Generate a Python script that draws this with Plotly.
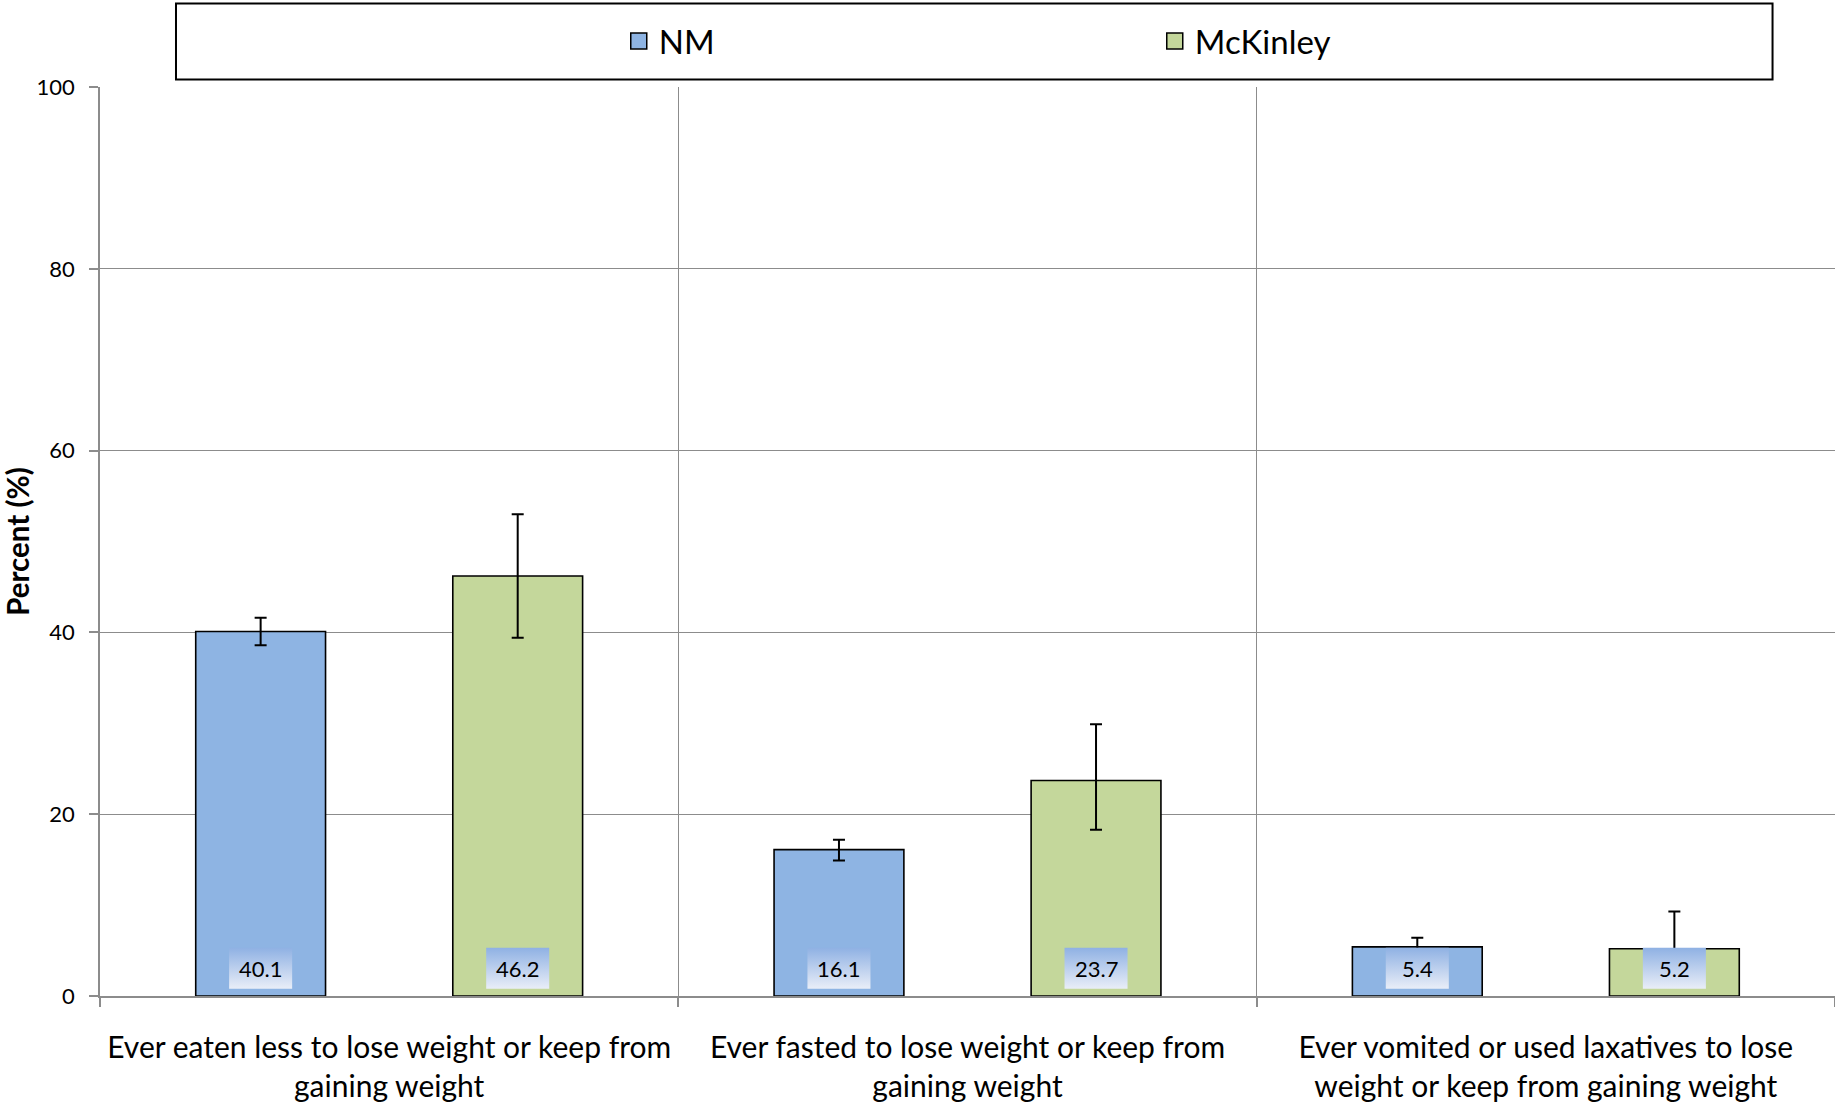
import plotly.graph_objects as go

categories = [
    "Ever eaten less to lose weight or keep from<br>gaining weight",
    "Ever fasted to lose weight or keep from<br>gaining weight",
    "Ever vomited or used laxatives to lose<br>weight or keep from gaining weight",
]
series_names = ["NM", "McKinley"]
nm_values = [40.1, 16.1, 5.4]
mck_values = [46.2, 23.7, 5.2]
nm_err_plus = [1.5, 1.1, 1.0]
nm_err_minus = [1.5, 1.2, 1.0]
mck_err_plus = [6.8, 6.2, 4.1]
mck_err_minus = [6.8, 5.4, 2.5]
y_ticks = [0, 20, 40, 60, 80, 100]

FONT = "Lato"
colors = ["#8EB4E3", "#C4D79B"]
grid = "#8C8C8C"

bargap = 0.111
bargroupgap = 0.495
slot = (1 - bargap) / 2           # width of each group slot
offsets = [-slot / 2, slot / 2]   # centre offsets of the two bars

xs = list(range(len(categories)))
values = [nm_values, mck_values]
eplus = [nm_err_plus, mck_err_plus]
eminus = [nm_err_minus, mck_err_minus]

fig = go.Figure()
for s in range(2):
    fig.add_trace(go.Bar(
        x=xs, y=values[s], name=series_names[s],
        marker=dict(color=colors[s], line=dict(color="black", width=1.6)),
        error_y=dict(type="data", symmetric=False, array=eplus[s], arrayminus=eminus[s],
                     color="black", thickness=2, width=6),
        showlegend=False,
    ))

# legend entries
for s in range(2):
    fig.add_trace(go.Scatter(
        x=[None], y=[None], mode="markers", name=series_names[s],
        marker=dict(symbol="square", size=20, color=colors[s], line=dict(color="black", width=1.5)),
    ))

# value label boxes with vertical gradient
box_hw = 0.0545
box_lo, box_hi = 0.8, 5.3
for s in range(2):
    for i, v in enumerate(values[s]):
        cx = xs[i] + offsets[s]
        fig.add_trace(go.Scatter(
            x=[cx - box_hw, cx + box_hw, cx + box_hw, cx - box_hw, cx - box_hw],
            y=[box_lo, box_lo, box_hi, box_hi, box_lo],
            mode="lines", line=dict(width=0), fill="toself",
            fillgradient=dict(type="vertical", start=box_lo, stop=box_hi,
                              colorscale=[[0, "#E9EEF8"], [1, "#8FB1E3"]]),
            showlegend=False, hoverinfo="skip",
        ))
        fig.add_annotation(x=cx, y=(box_lo + box_hi) / 2, text=f"{v:.1f}", showarrow=False,
                           font=dict(family=FONT, size=22, color="black"))

# legend frame
fig.add_shape(type="rect", xref="paper", yref="paper", x0=0.0438, x1=0.964, y0=1.0082, y1=1.0919,
              line=dict(color="black", width=2), fillcolor="rgba(0,0,0,0)")

fig.update_layout(
    width=1835, height=1105,
    margin=dict(l=100, r=0, t=87, b=109),
    plot_bgcolor="white", paper_bgcolor="white",
    barmode="group", bargap=bargap, bargroupgap=bargroupgap,
    font=dict(family=FONT, color="black"),
    legend=dict(orientation="h", x=0.299, xanchor="left", y=1.0506, yanchor="middle",
                entrywidth=491, font=dict(family=FONT, size=33), bgcolor="rgba(0,0,0,0)"),
)
fig.update_xaxes(
    range=[-0.5, 2.5], tickvals=xs, ticktext=categories, ticks="", showgrid=False,
    tickfont=dict(family=FONT, size=30), showline=True, linecolor=grid, linewidth=1.5,
    minor=dict(tick0=0.5, dtick=1, showgrid=True, gridcolor=grid, gridwidth=1.3,
               ticks="outside", ticklen=9, tickcolor=grid, tickwidth=1.5),
    zeroline=False, ticklabelstandoff=24,
)
fig.update_yaxes(
    range=[0, 100], tickvals=y_ticks, showgrid=True, gridcolor=grid, gridwidth=1.3,
    showline=True, linecolor=grid, linewidth=1.5, ticks="outside", ticklen=9,
    tickcolor=grid, tickwidth=1.5, tickfont=dict(family=FONT, size=22), zeroline=False,
    ticklabelstandoff=10,
    title=dict(text="<b>Percent (%)</b>", font=dict(family=FONT, size=29.5), standoff=4),
)
fig.write_html("out.html", post_script="document.body.style.margin='0';",
               config={"displayModeBar": False})
